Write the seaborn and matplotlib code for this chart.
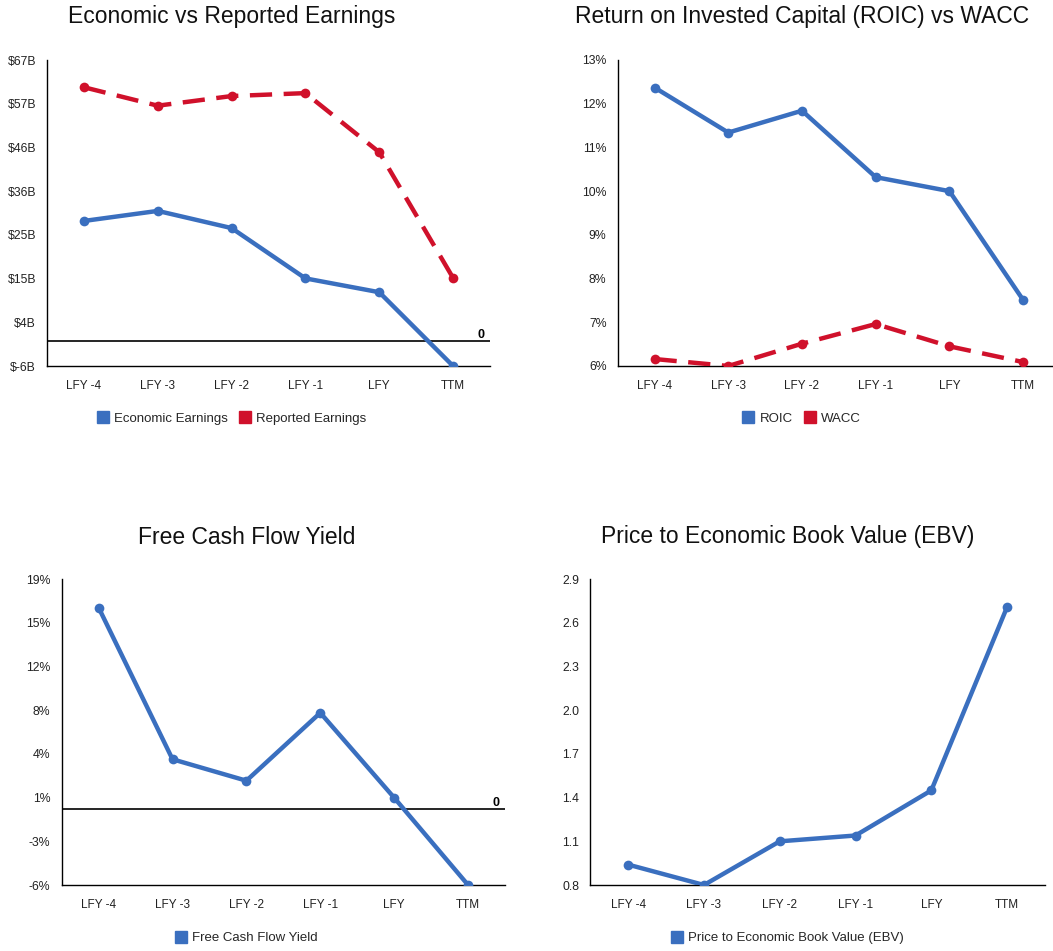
import numpy as np
import pandas as pd
import matplotlib
matplotlib.use("Agg")
import matplotlib.pyplot as plt
from matplotlib.lines import Line2D
import seaborn as sns

# ---- data ----
periods = ["LFY -4", "LFY -3", "LFY -2", "LFY -1", "LFY", "TTM"]
economic_earnings = [28.6, 31.0, 26.9, 14.9, 11.6, -6.0]   # $B
reported_earnings = [60.5, 56.1, 58.4, 59.1, 45.0, 15.0]   # $B
roic = [12.37, 11.34, 11.84, 10.32, 10.0, 7.51]            # %
wacc = [6.16, 6.0, 6.51, 6.96, 6.45, 6.09]                 # %
fcf_yield = [16.3, 4.0, 2.26, 7.77, 0.88, -6.2]            # %
p_ebv = [0.94, 0.80, 1.10, 1.14, 1.45, 2.71]

BLUE = "#3a6fbf"
RED = "#d0112b"

sns.set_style("white")
plt.rcParams["font.family"] = ["Liberation Sans", "DejaVu Sans"]

W, H = 1053, 951
fig = plt.figure(figsize=(W / 100, H / 100), dpi=100)


def add_ax(left, right, top, bottom):
    return fig.add_axes([left / W, 1 - bottom / H, (right - left) / W, (bottom - top) / H])


def style_ax(ax, ymin, ymax, fmt):
    ax.set_xlim(-0.5, len(periods) - 0.5)
    ax.set_ylim(ymin, ymax)
    for s in ["top", "right"]:
        ax.spines[s].set_visible(False)
    for s in ["left", "bottom"]:
        ax.spines[s].set_color("black")
        ax.spines[s].set_linewidth(1.0)
    # boundaries as major ticks, labels at centers as minor ticks
    ax.set_xticks(np.arange(-0.5, len(periods)), labels=[""] * (len(periods) + 1))
    ax.set_xticks(np.arange(len(periods)), labels=periods, minor=True)
    ax.tick_params(axis="x", which="major", length=6, width=1, color="black", direction="out")
    ax.tick_params(axis="x", which="minor", length=0, labelsize=8.5, pad=10, labelcolor="#222222")
    yt = np.linspace(ymin, ymax, 8)
    ax.set_yticks(yt, labels=[fmt(v) for v in yt])
    ax.tick_params(axis="y", length=6, width=1, color="black", direction="out", labelsize=8.8,
                   labelcolor="#222222", pad=2)
    ax.set_xlabel("")
    ax.set_ylabel("")
    ax.grid(False)


def zero_line(ax):
    ax.axhline(0, color="black", lw=1.2, zorder=1)
    ax.text(len(periods) - 0.5 - 0.08, 0, "0", ha="right", va="bottom", fontsize=9,
            fontweight="bold", color="black")


def legend(xc, yc, items):
    handles = [Line2D([], [], marker="s", ls="none", markersize=9, color=c, label=l) for l, c in items]
    fig.legend(handles=handles, loc="center", bbox_to_anchor=(xc / W, 1 - yc / H), ncol=len(items),
               frameon=False, fontsize=9.5, handletextpad=0.45, columnspacing=0.9, handlelength=0.8)


def title(xc, yc, text):
    fig.text(xc / W, 1 - yc / H, text, ha="center", va="center", fontsize=16.5, color="#111111")


LW = 3.2
MS = 7

# ---- Economic vs Reported Earnings ----
ax1 = add_ax(47, 490, 60, 366)
df1 = pd.DataFrame({"period": periods * 2,
                    "value": economic_earnings + reported_earnings,
                    "series": ["Economic Earnings"] * 6 + ["Reported Earnings"] * 6})
zero_line(ax1)
sns.lineplot(data=df1, x="period", y="value", hue="series", style="series",
             palette={"Economic Earnings": BLUE, "Reported Earnings": RED},
             dashes={"Economic Earnings": "", "Reported Earnings": (5, 2.6)},
             markers={"Economic Earnings": "o", "Reported Earnings": "o"},
             markersize=MS, markeredgewidth=0, linewidth=LW, sort=False, legend=False, ax=ax1, zorder=3)
style_ax(ax1, -6, 67, lambda v: f"${int(round(v))}B")
title(232, 17, "Economic vs Reported Earnings")
legend(232, 419, [("Economic Earnings", BLUE), ("Reported Earnings", RED)])

# ---- ROIC vs WACC ----
ax2 = add_ax(617.7, 1060, 60, 366)
df2 = pd.DataFrame({"period": periods * 2,
                    "value": roic + wacc,
                    "series": ["ROIC"] * 6 + ["WACC"] * 6})
sns.lineplot(data=df2, x="period", y="value", hue="series", style="series",
             palette={"ROIC": BLUE, "WACC": RED},
             dashes={"ROIC": "", "WACC": (5, 2.6)},
             markers={"ROIC": "o", "WACC": "o"},
             markersize=MS, markeredgewidth=0, linewidth=LW, sort=False, legend=False, ax=ax2, zorder=3)
style_ax(ax2, 6, 13, lambda v: f"{int(round(v))}%")
title(802, 17, "Return on Invested Capital (ROIC) vs WACC")
legend(802, 419, [("ROIC", BLUE), ("WACC", RED)])

# ---- Free Cash Flow Yield ----
ax3 = add_ax(61.7, 505, 579.3, 885)
df3 = pd.DataFrame({"period": periods, "value": fcf_yield})
zero_line(ax3)
sns.lineplot(data=df3, x="period", y="value", color=BLUE, marker="o", markersize=MS,
             markeredgewidth=0, linewidth=LW, sort=False, ax=ax3, zorder=3)
style_ax(ax3, -6.2, 18.6, lambda v: f"{int(round(v))}%")
title(247, 537, "Free Cash Flow Yield")
legend(247, 938, [("Free Cash Flow Yield", BLUE)])

# ---- Price to EBV ----
ax4 = add_ax(590.3, 1045, 579.3, 885)
df4 = pd.DataFrame({"period": periods, "value": p_ebv})
sns.lineplot(data=df4, x="period", y="value", color=BLUE, marker="o", markersize=MS,
             markeredgewidth=0, linewidth=LW, sort=False, ax=ax4, zorder=3)
style_ax(ax4, 0.8, 2.9, lambda v: f"{v:.1f}")
title(788, 537, "Price to Economic Book Value (EBV)")
legend(788, 938, [("Price to Economic Book Value (EBV)", BLUE)])

fig.savefig("out.png", dpi=100)
